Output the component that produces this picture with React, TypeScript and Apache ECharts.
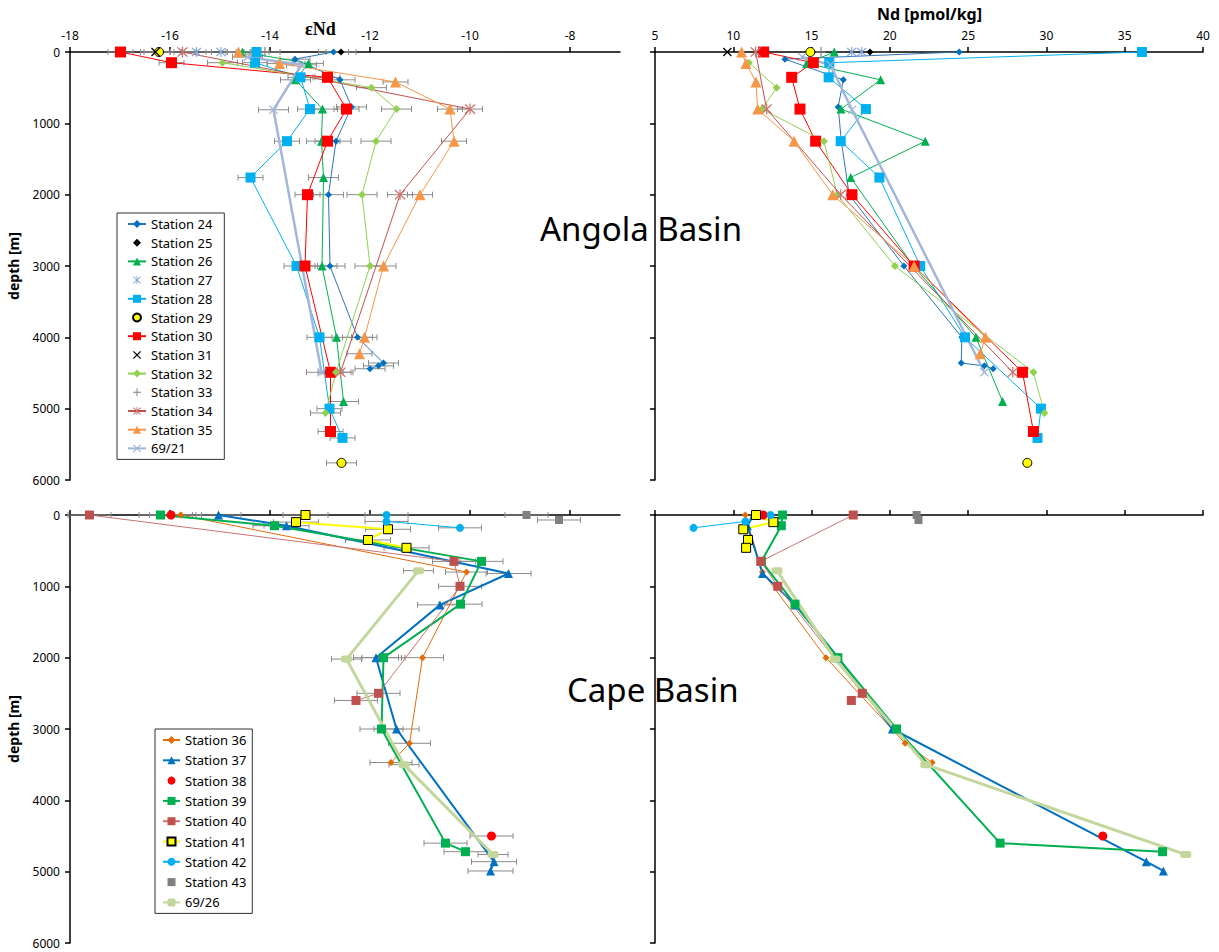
import React, { useEffect, useRef } from 'react';
import * as echarts from 'echarts';

// ---------- Angola Basin: [depth m, εNd] and [depth m, Nd pmol/kg] ----------
const st24_eNd = [[0, -12.73], [100, -13.5], [390, -12.6], [770, -12.37], [1250, -12.68], [2000, -12.83], [3000, -12.8], [4000, -12.25], [4360, -11.73], [4400, -11.83], [4440, -12.0]];
const st24_Nd = [[0, 24.43], [100, 13.3], [390, 17.03], [770, 16.7], [1250, 16.9], [2000, 17.4], [3000, 20.9], [4000, 24.6], [4360, 24.56], [4400, 26.04], [4440, 26.6]];
const st25_eNd = [[0, -12.58]];
const st25_Nd = [[0, 18.73]];
const st26_eNd = [[0, -14.55], [160, -13.23], [390, -13.49], [800, -12.95], [1250, -12.97], [1760, -12.93], [3000, -12.96], [4000, -12.67], [4900, -12.53]];
const st26_Nd = [[0, 16.45], [160, 14.69], [390, 19.41], [800, 16.88], [1250, 22.26], [1760, 17.5], [3000, 21.5], [4000, 25.5], [4900, 27.2]];
const st27_eNd = [[0, -15.47], [0, -14.98]];
const st27_Nd = [[0, 17.56], [0, 18.2]];
const st28_eNd = [[0, -14.27], [150, -14.3], [355, -13.39], [800, -13.2], [1250, -13.66], [1760, -14.39], [3000, -13.47], [4000, -13.01], [5000, -12.81], [5410, -12.55]];
const st28_Nd = [[0, 36.1], [150, 16.13], [355, 16.09], [800, 18.47], [1250, 16.86], [1760, 19.33], [3000, 21.94], [4000, 24.8], [5000, 29.65], [5410, 29.43]];
const st29_eNd = [[0, -16.22], [5760, -12.57]];
const st29_Nd = [[0, 14.92], [5760, 28.78]];
const st30_eNd = [[0, -16.99], [150, -15.97], [355, -12.85], [800, -12.47], [1250, -12.85], [2000, -13.25], [3000, -13.3], [4490, -12.79], [5320, -12.79]];
const st30_Nd = [[0, 11.94], [150, 15.11], [355, 13.73], [800, 14.26], [1250, 15.26], [2000, 17.58], [3000, 21.55], [4490, 28.47], [5320, 29.17]];
const st31_eNd = [[0, -16.29]];
const st31_Nd = [[0, 9.62]];
const st32_eNd = [[150, -14.95], [500, -11.97], [800, -11.47], [1250, -11.88], [2000, -12.16], [3000, -12.0], [4490, -12.68], [5060, -12.89]];
const st32_Nd = [[150, 11.0], [500, 12.77], [800, 11.83], [1250, 15.79], [2000, 16.64], [3000, 20.32], [4490, 29.17], [5060, 29.87]];
const st33_eNd = [[0, -14.1]];
const st33_Nd = [[0, 15.6]];
const st34_eNd = [[0, -15.75], [800, -10.0], [2000, -11.4], [4490, -12.59]];
const st34_Nd = [[0, 11.43], [800, 12.13], [2000, 16.86], [4490, 27.85]];
const st35_eNd = [[0, -14.63], [160, -13.81], [420, -11.49], [800, -10.4], [1250, -10.32], [2000, -11.0], [3000, -11.73], [4000, -12.11], [4230, -12.21]];
const st35_Nd = [[0, 10.53], [160, 10.81], [420, 11.45], [800, 11.56], [1250, 13.88], [2000, 16.35], [3000, 21.55], [4000, 26.1], [4230, 25.77]];
const st6921_eNd = [[70, -14.45], [180, -13.37], [810, -13.93], [4490, -12.97]];
const st6921_Nd = [[70, 14.4], [180, 16.2], [810, 17.58], [4490, 26.04]];

// ---------- Cape Basin ----------
const st36_eNd = [[0, -15.79], [800, -10.07], [2000, -10.95], [3200, -11.21], [3470, -11.58]];
const st36_Nd = [[0, 10.77], [800, 11.86], [2000, 15.92], [3200, 20.97], [3470, 22.7]];
const st37_eNd = [[0, -15.03], [150, -13.67], [820, -9.23], [1260, -10.6], [2000, -11.88], [3000, -11.47], [4860, -9.52], [4990, -9.59]];
const st37_Nd = [[0, 11.3], [150, 10.9], [820, 11.87], [1260, 13.95], [2000, 16.7], [3000, 20.16], [4860, 36.38], [4990, 37.47]];
const st38_eNd = [[0, -15.98], [4500, -9.57]];
const st38_Nd = [[0, 11.91], [4500, 33.6]];
const st39_eNd = [[0, -16.19], [150, -13.91], [650, -9.77], [1250, -10.19], [2000, -11.73], [3000, -11.77], [4600, -10.49], [4720, -10.09]];
const st39_Nd = [[0, 13.14], [150, 13.07], [650, 11.8], [1250, 13.94], [2000, 16.68], [3000, 20.43], [4600, 27.04], [4720, 37.42]];
const st40_eNd = [[0, -17.61], [650, -10.32], [1000, -10.2], [2500, -11.83], [2600, -12.28]];
const st40_Nd = [[0, 17.66], [650, 11.75], [1000, 12.84], [2500, 18.24], [2600, 17.54]];
const st41_eNd = [[0, -13.29], [100, -13.48], [200, -11.64], [350, -12.04], [460, -11.27]];
const st41_Nd = [[0, 11.45], [100, 12.56], [200, 10.64], [350, 10.94], [460, 10.82]];
const st42_eNd = [[0, -11.67], [90, -11.67], [180, -10.2]];
const st42_Nd = [[0, 12.38], [90, 10.77], [180, 7.46]];
const st43_eNd = [[0, -8.87], [70, -8.22]];
const st43_Nd = [[0, 21.71], [70, 21.83]];
const st6926_eNd = [[780, -11.03], [2020, -12.47], [3500, -11.32], [4760, -9.54]];
const st6926_Nd = [[780, 12.79], [2020, 16.5], [3500, 22.3], [4760, 38.9]];

// ±2σ εNd uncertainty per station
const errA = { s24: 0.3, s25: 0.3, s26: 0.3, s27: 0.3, s28: 0.25, s29: 0.3, s30: 0.25, s31: 0.3, s32: 0.3, s33: 0.3, s34: 0.25, s35: 0.25, s6921: 0.3 };
const errC = { s36: 0.42, s37: 0.45, s38: 0.43, s39: 0.43, s40: 0.43, s41: 0.45, s42: 0.43, s43: 0.43, s6926: 0.3 };

const eNdTicks = [-18, -16, -14, -12, -10, -8];
const ndTicks = [5, 10, 15, 20, 25, 30, 35, 40];
const depthTicks = [0, 1000, 2000, 3000, 4000, 5000, 6000];

const X_PATH = 'path://M1,0L5,4L9,0L10,1L6,5L10,9L9,10L5,6L1,10L0,9L4,5L0,1Z';
const STAR_PATH = 'path://M1.2,0.4L5,4.2L8.8,0.4L9.6,1.2L5.8,5L9.6,8.8L8.8,9.6L5,5.8L1.2,9.6L0.4,8.8L4.2,5L0.4,1.2Z M4.5,0H5.5V10H4.5Z';
const PLUS_PATH = 'path://M4.4,0H5.6V4.4H10V5.6H5.6V10H4.4V5.6H0V4.4H4.4Z';

type St = {
  name: string; basin: 'A' | 'C'; eNd: number[][]; nd: number[][]; err: number;
  color: string; line: string | null; lw: number; symbol: string; size: any; border?: string;
};

const stations: St[] = [
  { name: 'Station 24', basin: 'A', eNd: st24_eNd, nd: st24_Nd, err: errA.s24, color: '#0070C0', line: '#2E75B6', lw: 1, symbol: 'diamond', size: 7 },
  { name: 'Station 25', basin: 'A', eNd: st25_eNd, nd: st25_Nd, err: errA.s25, color: '#000000', line: null, lw: 0, symbol: 'diamond', size: 7 },
  { name: 'Station 26', basin: 'A', eNd: st26_eNd, nd: st26_Nd, err: errA.s26, color: '#00B050', line: '#00B050', lw: 1, symbol: 'triangle', size: 9 },
  { name: 'Station 27', basin: 'A', eNd: st27_eNd, nd: st27_Nd, err: errA.s27, color: '#7FA3DA', line: null, lw: 0, symbol: STAR_PATH, size: 10 },
  { name: 'Station 28', basin: 'A', eNd: st28_eNd, nd: st28_Nd, err: errA.s28, color: '#00B0F0', line: '#00B0F0', lw: 1, symbol: 'rect', size: 10 },
  { name: 'Station 29', basin: 'A', eNd: st29_eNd, nd: st29_Nd, err: errA.s29, color: '#FFFF00', line: null, lw: 0, symbol: 'circle', size: 9, border: '#000000' },
  { name: 'Station 30', basin: 'A', eNd: st30_eNd, nd: st30_Nd, err: errA.s30, color: '#FF0000', line: '#FF0000', lw: 1, symbol: 'rect', size: 11 },
  { name: 'Station 31', basin: 'A', eNd: st31_eNd, nd: st31_Nd, err: errA.s31, color: '#000000', line: null, lw: 0, symbol: X_PATH, size: 9 },
  { name: 'Station 32', basin: 'A', eNd: st32_eNd, nd: st32_Nd, err: errA.s32, color: '#92D050', line: '#92D050', lw: 1, symbol: 'diamond', size: 8 },
  { name: 'Station 33', basin: 'A', eNd: st33_eNd, nd: st33_Nd, err: errA.s33, color: '#808080', line: null, lw: 0, symbol: PLUS_PATH, size: 10 },
  { name: 'Station 34', basin: 'A', eNd: st34_eNd, nd: st34_Nd, err: errA.s34, color: '#CD7370', line: '#C0504D', lw: 1, symbol: STAR_PATH, size: 11 },
  { name: 'Station 35', basin: 'A', eNd: st35_eNd, nd: st35_Nd, err: errA.s35, color: '#F79646', line: '#F79646', lw: 1, symbol: 'triangle', size: 11 },
  { name: '69/21', basin: 'A', eNd: st6921_eNd, nd: st6921_Nd, err: errA.s6921, color: '#A3B6DA', line: '#A3B6DA', lw: 2.5, symbol: X_PATH, size: 9 },
  { name: 'Station 36', basin: 'C', eNd: st36_eNd, nd: st36_Nd, err: errC.s36, color: '#E36C09', line: '#E36C09', lw: 1, symbol: 'diamond', size: 7 },
  { name: 'Station 37', basin: 'C', eNd: st37_eNd, nd: st37_Nd, err: errC.s37, color: '#0070C0', line: '#0070C0', lw: 2, symbol: 'triangle', size: 9 },
  { name: 'Station 38', basin: 'C', eNd: st38_eNd, nd: st38_Nd, err: errC.s38, color: '#FF0000', line: null, lw: 0, symbol: 'circle', size: 9 },
  { name: 'Station 39', basin: 'C', eNd: st39_eNd, nd: st39_Nd, err: errC.s39, color: '#00B050', line: '#00B050', lw: 2, symbol: 'rect', size: 9 },
  { name: 'Station 40', basin: 'C', eNd: st40_eNd, nd: st40_Nd, err: errC.s40, color: '#C0504D', line: '#C97472', lw: 1, symbol: 'rect', size: 9 },
  { name: 'Station 41', basin: 'C', eNd: st41_eNd, nd: st41_Nd, err: errC.s41, color: '#FFFF00', line: '#FFFF00', lw: 2, symbol: 'rect', size: 9, border: '#000000' },
  { name: 'Station 42', basin: 'C', eNd: st42_eNd, nd: st42_Nd, err: errC.s42, color: '#00B0F0', line: '#00B0F0', lw: 1, symbol: 'circle', size: 8 },
  { name: 'Station 43', basin: 'C', eNd: st43_eNd, nd: st43_Nd, err: errC.s43, color: '#808080', line: null, lw: 0, symbol: 'rect', size: 8 },
  { name: '69/26', basin: 'C', eNd: st6926_eNd, nd: st6926_Nd, err: errC.s6926, color: '#C3D69B', line: '#C3D69B', lw: 3, symbol: 'roundRect', size: [11, 7] },
];

const FONT = 'Noto Sans';

function buildOption() {
  const grids = [
    { left: 70, top: 52, width: 550, height: 428 },
    { left: 655, top: 52, width: 548, height: 428 },
    { left: 70, top: 515, width: 550, height: 428 },
    { left: 655, top: 515, width: 548, height: 428 },
  ];
  const axisLine = { onZero: false, lineStyle: { color: '#000', width: 1.5 } };
  const axisTick = (vals: number[]) => ({ show: true, length: 5, customValues: vals, lineStyle: { color: '#000', width: 1.5 } });
  const xAxis = [0, 1, 2, 3].map((g) => {
    const isE = g % 2 === 0;
    const ticks = isE ? eNdTicks : ndTicks;
    return {
      type: 'value', gridIndex: g, position: 'top',
      min: isE ? -18 : 5, max: isE ? -7 : 40, interval: isE ? 2 : 5,
      axisLine, axisTick: axisTick(ticks),
      axisLabel: { show: g < 2, customValues: ticks, color: '#000', fontSize: 12, fontFamily: FONT, margin: 11, formatter: (v: number) => String(v) },
      splitLine: { show: false },
    };
  });
  const yAxis = [0, 1, 2, 3].map((g) => {
    const left = g % 2 === 0;
    return {
      type: 'value', gridIndex: g, inverse: true, min: 0, max: 6000, interval: 1000,
      axisLine, axisTick: axisTick(depthTicks),
      axisLabel: { show: left, color: '#000', fontSize: 12, fontFamily: FONT, margin: 10, formatter: (v: number) => String(v) },
      splitLine: { show: false },
      name: left ? 'depth [m]' : '', nameLocation: 'middle', nameGap: 50,
      nameTextStyle: { fontWeight: 'bold', fontSize: 14, fontFamily: FONT, color: '#000' },
    };
  });

  const series: any[] = [];
  // error bars (εNd panels)
  (['A', 'C'] as const).forEach((b) => {
    const gi = b === 'A' ? 0 : 2;
    const data: number[][] = [];
    stations.filter((s) => s.basin === b).forEach((s) => s.eNd.forEach(([d, v]) => data.push([v, d, s.err])));
    series.push({
      type: 'custom', xAxisIndex: gi, yAxisIndex: gi, z: 1, silent: true,
      encode: { x: 0, y: 1 }, data,
      renderItem: (_p: any, api: any) => {
        const x = api.value(0), y = api.value(1), e = api.value(2);
        const a = api.coord([x - e, y]);
        const c = api.coord([x + e, y]);
        const style = { stroke: '#8C8C8C', lineWidth: 1, fill: null };
        return {
          type: 'group', children: [
            { type: 'line', shape: { x1: a[0], y1: a[1], x2: c[0], y2: c[1] }, style },
            { type: 'line', shape: { x1: a[0], y1: a[1] - 3, x2: a[0], y2: a[1] + 3 }, style },
            { type: 'line', shape: { x1: c[0], y1: c[1] - 3, x2: c[0], y2: c[1] + 3 }, style },
          ],
        };
      },
    });
  });

  stations.forEach((s) => {
    const base = s.basin === 'A' ? 0 : 2;
    const itemStyle: any = { color: s.color };
    if (s.border) { itemStyle.borderColor = s.border; itemStyle.borderWidth = 1; }
    const mk = (data: number[][], gi: number) => ({
      type: 'line', name: s.name, xAxisIndex: gi, yAxisIndex: gi, data: data.map(([d, v]) => [v, d]), z: 3,
      symbol: s.symbol, symbolSize: s.size, showAllSymbol: true, itemStyle,
      lineStyle: s.line ? { color: s.line, width: s.lw } : { width: 0, opacity: 0 },
      emphasis: { disabled: true },
    });
    series.push(mk(s.eNd, base));
    series.push(mk(s.nd, base + 1));
  });

  const legendCommon = {
    orient: 'vertical', backgroundColor: '#fff', borderColor: '#333', borderWidth: 1,
    itemWidth: 18, itemHeight: 10, selectedMode: false,
    textStyle: { fontSize: 13, fontFamily: FONT, color: '#000', lineHeight: 16 },
  };
  const legend = [
    { ...legendCommon, left: 117, top: 213, itemGap: 2.7, padding: [3, 12, 3, 10], data: stations.filter((s) => s.basin === 'A').map((s) => s.name) },
    { ...legendCommon, left: 155, top: 729, itemGap: 4.3, itemWidth: 17, padding: [3, 6, 3, 7], data: stations.filter((s) => s.basin === 'C').map((s) => s.name) },
  ];

  const graphic = [
    { type: 'text', left: 305, top: 20, style: { text: 'εNd', fontSize: 18, fontWeight: 'bold', fontFamily: 'Liberation Serif', fill: '#000' } },
    { type: 'text', left: 877, top: 6, style: { text: 'Nd [pmol/kg]', fontSize: 16, fontWeight: 'bold', fontFamily: FONT, fill: '#000' } },
    { type: 'text', left: 540, top: 212, style: { text: 'Angola Basin', fontSize: 33, fontFamily: FONT, fill: '#000' } },
    { type: 'text', left: 567, top: 673, style: { text: 'Cape Basin', fontSize: 33, fontFamily: FONT, fill: '#000' } },
  ];

  return { animation: false, backgroundColor: '#fff', grid: grids, xAxis, yAxis, series, legend, graphic };
}

export default function App() {
  const ref = useRef<HTMLDivElement>(null);
  useEffect(() => {
    if (!ref.current) return;
    const chart = echarts.init(ref.current, undefined, { renderer: 'svg' });
    chart.setOption(buildOption() as any);
    return () => chart.dispose();
  }, []);
  return <div ref={ref} style={{ position: 'absolute', left: 0, top: 0, width: 1219, height: 952 }} />;
}
